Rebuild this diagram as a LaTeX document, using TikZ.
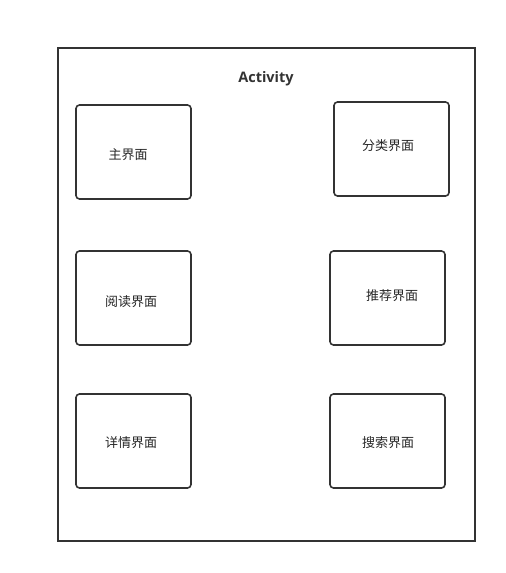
\documentclass[tikz,border=0pt]{standalone}
\usepackage{fontspec}
\setmainfont{Open Sans}
\newfontfamily\cjk{Noto Sans CJK SC}
\definecolor{edge}{HTML}{333333}
\begin{document}
\begin{tikzpicture}[x=1pt,y=-1pt,
  frame/.style={draw=edge,line width=1.6pt},
  screen/.style={draw=edge,line width=1.6pt,rounded corners=3.5pt},
  label/.style={font=\cjk\fontsize{13}{15}\selectfont,text=black!85}]
\useasboundingbox (0,0) rectangle (506,573);
\fill[white] (0,0) rectangle (506,573);
% container
\draw[frame] (58,48) rectangle (475,541);
\node[font=\bfseries\fontsize{14.5}{17}\selectfont,text=edge] (title) at (266,79) {Activity};
% screens
\draw[screen] (76,105) rectangle (191,199);
\node[label] (main) at (128,155) {主界面};
\draw[screen] (334,102) rectangle (449,196);
\node[label] (cat) at (388,146) {分类界面};
\draw[screen] (76,251) rectangle (191,345);
\node[label] (read) at (131,302) {阅读界面};
\draw[screen] (330,251) rectangle (445,345);
\node[label] (rec) at (392,296) {推荐界面};
\draw[screen] (76,394) rectangle (191,488);
\node[label] (detail) at (131,443) {详情界面};
\draw[screen] (330,394) rectangle (445,488);
\node[label] (search) at (388,443) {搜索界面};
\end{tikzpicture}
\end{document}
